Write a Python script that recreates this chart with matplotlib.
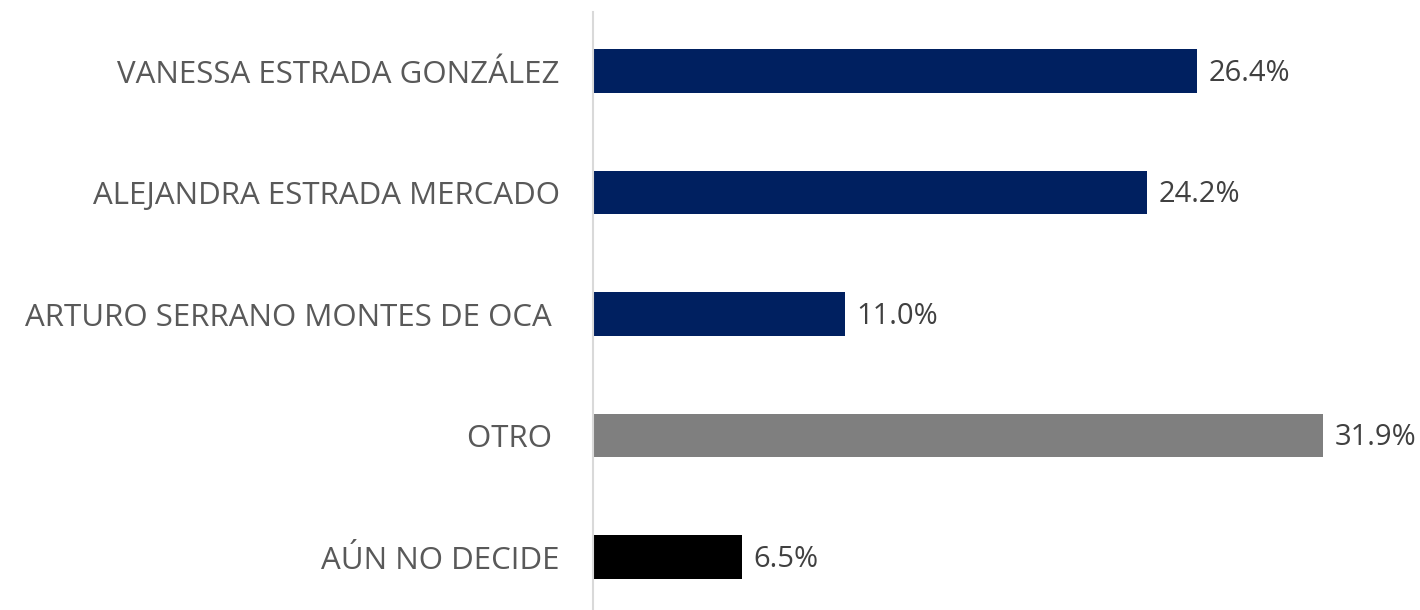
#import modules
import matplotlib.pyplot as plt
import numpy as np

#fonts
plt.rcParams['font.family'] = ['Open Sans', 'DejaVu Sans']

#Defining the data
candidates = ["VANESSA ESTRADA GONZÁLEZ", "ALEJANDRA ESTRADA MERCADO",
              "ARTURO SERRANO MONTES DE OCA ", "OTRO ", "AÚN NO DECIDE"]
percent = [26.4, 24.2, 11.0, 31.9, 6.5]
colors = ["#002060", "#002060", "#002060", "#7f7f7f", "#000000"]

#Creating Figure & axes
fig = plt.figure(figsize=(14.2, 6.1), dpi=100)
ax = fig.add_axes([593 / 1420, 0, 1 - 593 / 1420, 598 / 610])

y = np.arange(len(candidates))
ax.barh(y, percent, height=0.36, color=colors)

#value labels
for yi, p in zip(y, percent):
    ax.text(p + 0.5, yi + 0.02, f"{p:.1f}%", va="center", ha="left",
            fontsize=21, color="#404040")

#axes look
ax.set_xlim(0, 827 / 22.88)
ax.set_ylim(4.436, -0.486)
ax.set_yticks(y)
ax.set_yticklabels(candidates, fontsize=22.5, color="#595959")
ax.tick_params(axis="y", length=0, pad=24)
ax.set_xticks([])
for s in ["top", "right", "bottom"]:
    ax.spines[s].set_visible(False)
ax.spines["left"].set_color("#d9d9d9")
ax.spines["left"].set_linewidth(1.5)

fig.savefig("out.png", dpi=100)
